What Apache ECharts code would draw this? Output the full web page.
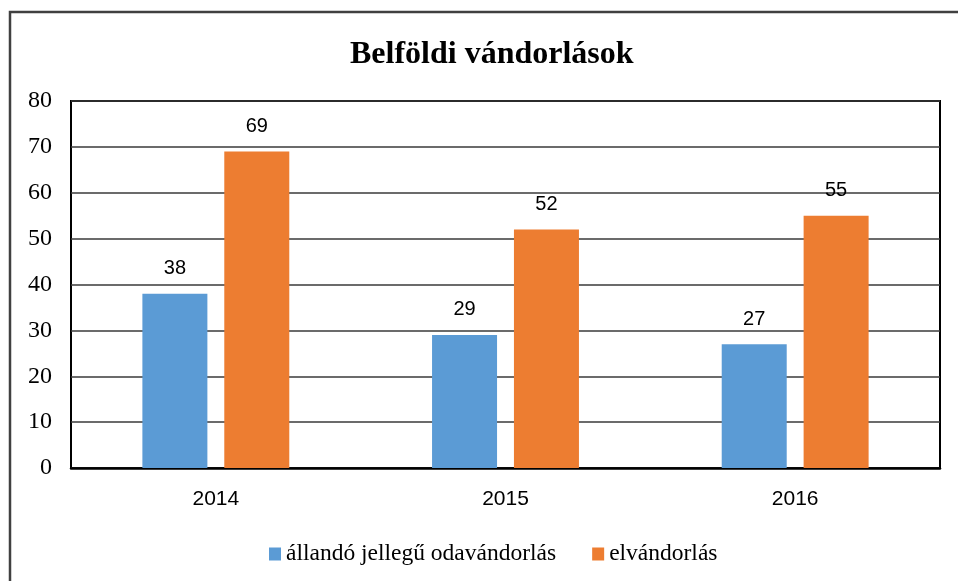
<!DOCTYPE html>
<html>
<head>
<meta charset="utf-8">
<script src="https://cdn.jsdelivr.net/npm/echarts@6/dist/echarts.min.js"></script>
<style>
  html, body { margin: 0; padding: 0; background: #fff; }
  #chart { width: 958px; height: 581px; }
</style>
</head>
<body>
<div id="chart"></div>
<script>
var years = ['2014', '2015', '2016'];
var seriesNames = ['állandó jellegű odavándorlás', 'elvándorlás'];
var odavandorlas = [38, 29, 27];
var elvandorlas = [69, 52, 55];
var colorList = ['#5B9BD5', '#ED7D31'];

var serifFont = "'Liberation Serif', 'DejaVu Serif', serif";
var sansFont = "'Liberation Sans', 'DejaVu Sans', sans-serif";

var chart = echarts.init(document.getElementById('chart'));

function barSeries(name, data, k) {
    return {
        name: name,
        type: 'bar',
        barWidth: 65,
        barGap: '26%',
        itemStyle: { color: colorList[k] },
        label: {
            show: true,
            position: 'top',
            distance: 15,
            color: '#000',
            fontFamily: sansFont,
            fontSize: 20
        },
        data: data
    };
}

var option = {
    backgroundColor: '#fff',
    animation: false,
    title: {
        text: 'Belföldi vándorlások',
        left: 345,
        top: 34,
        textStyle: {
            fontFamily: serifFont,
            fontWeight: 'bold',
            fontSize: 32,
            color: '#000'
        }
    },
    // outer frame of the chart object
    graphic: [{
        type: 'rect',
        shape: { x: 10, y: 12, width: 1000, height: 700 },
        style: { fill: 'none', stroke: '#404040', lineWidth: 2.5 },
        silent: true
    }],
    legend: {
        data: seriesNames,
        left: 264,
        top: 537,
        itemWidth: 12,
        itemHeight: 13,
        itemGap: 36,
        icon: 'rect',
        textStyle: {
            fontFamily: serifFont,
            fontSize: 23.5,
            color: '#000'
        }
    },
    grid: {
        left: 71,
        right: 18,
        top: 101,
        bottom: 113,
        show: true,
        borderColor: '#000',
        borderWidth: 2,
        containLabel: false
    },
    xAxis: {
        type: 'category',
        data: years,
        axisLine: { lineStyle: { color: '#000', width: 2.5 } },
        axisTick: { show: false },
        axisLabel: {
            margin: 21,
            color: '#000',
            fontFamily: sansFont,
            fontSize: 21
        }
    },
    yAxis: {
        type: 'value',
        min: 0,
        max: 80,
        interval: 10,
        axisLine: { show: false },
        axisTick: { show: false },
        axisLabel: {
            margin: 19,
            color: '#000',
            fontFamily: serifFont,
            fontSize: 24
        },
        splitLine: { lineStyle: { color: '#3a3a3a', width: 1.5 } }
    },
    series: [
        barSeries(seriesNames[0], odavandorlas, 0),
        barSeries(seriesNames[1], elvandorlas, 1)
    ]
};

chart.setOption(option);
</script>
</body>
</html>
